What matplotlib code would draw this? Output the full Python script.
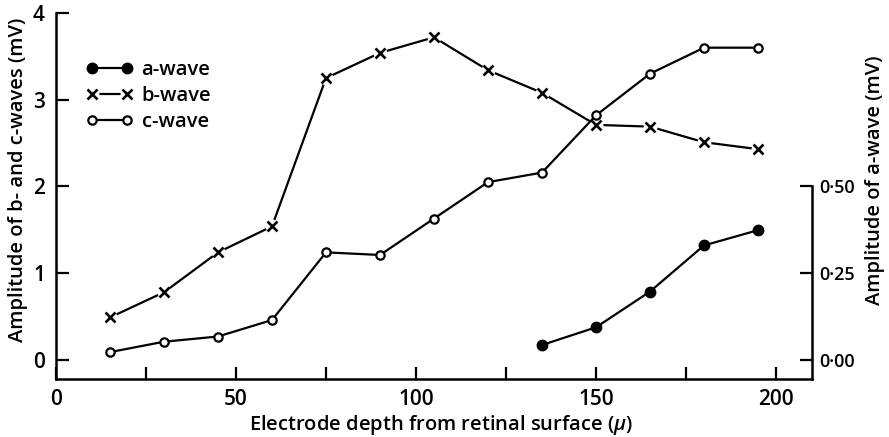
import matplotlib
matplotlib.use("Agg")
import matplotlib.pyplot as plt
from matplotlib.lines import Line2D
from matplotlib.legend_handler import HandlerTuple
from matplotlib.ticker import FixedLocator, FuncFormatter

plt.rcParams['font.family'] = ['Open Sans', 'DejaVu Sans']
plt.rcParams['font.weight'] = 'semibold'
plt.rcParams['mathtext.fontset'] = 'custom'
plt.rcParams['mathtext.it'] = 'Open Sans:italic:semibold'
plt.rcParams['mathtext.rm'] = 'Open Sans:semibold'

depth = [15, 30, 45, 60, 75, 90, 105, 120, 135, 150, 165, 180, 195]
b_wave = [0.49, 0.78, 1.24, 1.54, 3.25, 3.54, 3.72, 3.34, 3.08, 2.71, 2.69, 2.51, 2.43]
c_wave = [0.09, 0.21, 0.27, 0.46, 1.24, 1.21, 1.63, 2.05, 2.16, 2.82, 3.30, 3.60, 3.60]
a_depth = [135, 150, 165, 180, 195]
a_wave = [0.043, 0.094, 0.197, 0.33, 0.374]

x_ticks = [0, 50, 100, 150, 200]
x_minor = [25, 75, 125, 175]
left_ticks = [0, 1, 2, 3, 4]
right_ticks = [0.00, 0.25, 0.50]

FS = 14.5
TFS = 15
RFS = 13
fig = plt.figure(figsize=(8.89, 4.37), dpi=100)
ax = fig.add_axes([56/889, 1-379/437, (812-56)/889, (379-13)/437])
ax2 = ax.twinx()

ylo, yhi = -0.22, 4.0
ax.set_xlim(0, 210)
ax.set_ylim(ylo, yhi)
ax2.set_ylim(ylo*0.25, yhi*0.25)

lw = 1.6
# b-wave with gaps around markers
ax.plot(depth, b_wave, color='black', lw=lw, zorder=2)
ax.plot(depth, b_wave, ls='none', marker='o', ms=10, mfc='white', mec='none', zorder=3)
ax.plot(depth, b_wave, ls='none', marker='x', ms=6.5, mew=1.9, color='black', zorder=4)
# c-wave
ax.plot(depth, c_wave, color='black', lw=lw, marker='o', ms=6, mfc='white', mec='black', mew=1.6, zorder=5)
# a-wave
ax2.plot(a_depth, a_wave, color='black', lw=lw, marker='o', ms=7.5, mfc='black', mec='black', zorder=5)

for s in ['top', 'right']:
    ax.spines[s].set_visible(False)
for s in ['top', 'left', 'bottom']:
    ax2.spines[s].set_visible(False)
ax2.spines['right'].set_bounds(ylo*0.25, 0.5)
for a in (ax, ax2):
    for s in a.spines.values():
        s.set_linewidth(1.8)

ax.xaxis.set_major_locator(FixedLocator(x_ticks))
ax.xaxis.set_minor_locator(FixedLocator(x_minor))
ax.yaxis.set_major_locator(FixedLocator(left_ticks))
ax2.yaxis.set_major_locator(FixedLocator(right_ticks))
ax2.yaxis.set_major_formatter(FuncFormatter(lambda v, p: f"{v:.2f}".replace('.', '\u00b7')))

ax.tick_params(axis='x', which='both', direction='in', length=9, width=1.6, pad=7, labelsize=TFS)
ax.tick_params(axis='y', which='both', direction='in', length=9, width=1.6, pad=8, labelsize=TFS)
ax2.tick_params(axis='y', direction='in', length=9, width=1.6, pad=5, labelsize=RFS)

fig.text(441/889, 1-425/437, r"Electrode depth from retinal surface ($\mu$)", ha='center', va='center', fontsize=FS)
fig.text(18/889, 1-180/437, "Amplitude of b- and c-waves (mV)", rotation=90, ha='center', va='center', fontsize=FS)
fig.text(875/889, 1-180/437, "Amplitude of a-wave (mV)", rotation=90, ha='center', va='center', fontsize=FS)

h_a = Line2D([], [], color='black', lw=lw, marker='o', ms=7.5, mfc='black')
h_b = (Line2D([], [], color='black', lw=lw),
       Line2D([], [], ls='none', marker='o', ms=10, mfc='white', mec='none'),
       Line2D([], [], ls='none', marker='x', ms=6.5, mew=1.9, color='black'))
h_c = Line2D([], [], color='black', lw=lw, marker='o', ms=6, mfc='white', mec='black', mew=1.6)
ax.legend([h_a, h_b, h_c], ['a-wave', 'b-wave', 'c-wave'],
          handler_map={tuple: HandlerTuple(ndivide=1, pad=0)},
          loc='upper left', bbox_to_anchor=(0.04, 0.872), frameon=False, numpoints=2,
          handlelength=2.3, handletextpad=0.45, labelspacing=0.3, fontsize=FS,
          borderaxespad=0, borderpad=0)

fig.savefig("out.png", dpi=100)
